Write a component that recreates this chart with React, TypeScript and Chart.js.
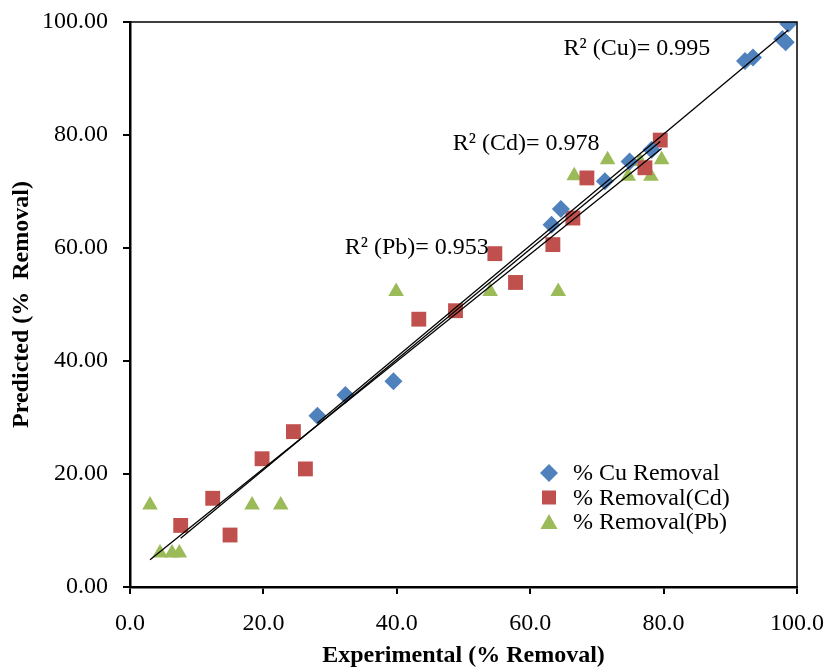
import React, { useEffect, useRef } from "react";
import { Chart, registerables } from "chart.js";

Chart.register(...registerables);

// ---- Data ----
const cuExperimental = [28.1, 32.3, 39.5, 63.2, 64.6, 71.2, 74.9, 78.2, 92.2, 93.4, 97.8, 98.3, 98.7];
const cuPredicted = [30.3, 34.0, 36.4, 64.1, 66.9, 71.8, 75.3, 77.4, 93.1, 93.7, 97.0, 96.4, 99.7];

const cdExperimental = [7.6, 12.4, 15.0, 19.8, 24.5, 26.3, 43.3, 48.8, 54.7, 57.8, 63.4, 66.4, 68.5, 77.2, 79.5];
const cdPredicted = [10.9, 15.7, 9.2, 22.7, 27.5, 20.9, 47.4, 48.9, 59.0, 53.9, 60.6, 65.3, 72.4, 74.2, 79.1];

const pbExperimental = [3.0, 4.5, 6.3, 7.4, 18.3, 22.6, 39.9, 54.0, 64.2, 66.6, 71.6, 74.7, 76.5, 78.1, 79.7];
const pbPredicted = [14.5, 6.0, 6.0, 6.0, 14.5, 14.5, 52.3, 52.3, 52.3, 72.8, 75.6, 72.7, 75.3, 72.7, 75.6];

const seriesLabels = ["% Cu Removal", "% Removal(Cd)", "% Removal(Pb)"];
const r2Texts = ["R² (Cu)= 0.995", "R² (Cd)= 0.978", "R² (Pb)= 0.953"];
const r2AnchorX = [65.0, 48.4, 32.2];
const r2AnchorY = [94.1, 77.4, 59.0];

const xTicksMax = 100;
const yTicksMax = 100;
const tickStep = 20;

// ---- helpers ----
const toPoints = (xs: number[], ys: number[]) => xs.map((x, i) => ({ x, y: ys[i] }));

function trend(xs: number[], ys: number[]) {
  const n = xs.length;
  const mx = xs.reduce((a, b) => a + b, 0) / n;
  const my = ys.reduce((a, b) => a + b, 0) / n;
  let sxy = 0;
  let sxx = 0;
  for (let i = 0; i < n; i++) {
    sxy += (xs[i] - mx) * (ys[i] - my);
    sxx += (xs[i] - mx) * (xs[i] - mx);
  }
  const b = sxy / sxx;
  const a = my - b * mx;
  const x0 = Math.min(...xs);
  const x1 = Math.max(...xs);
  return [
    { x: x0, y: a + b * x0 },
    { x: x1, y: a + b * x1 },
  ];
}

const COLORS = ["#4F81BD", "#C0504D", "#9BBB59"];
const FONT = "'Liberation Serif', 'Times New Roman', serif";

const framePlugin = {
  id: "frame",
  afterDraw(chart: any) {
    const { ctx, chartArea } = chart;
    ctx.save();
    ctx.strokeStyle = "#000";
    ctx.lineWidth = 1.5;
    ctx.beginPath();
    ctx.moveTo(chartArea.left, chartArea.top);
    ctx.lineTo(chartArea.right, chartArea.top);
    ctx.lineTo(chartArea.right, chartArea.bottom);
    ctx.stroke();
    ctx.restore();
  },
};

const r2Plugin = {
  id: "r2labels",
  afterDatasetsDraw(chart: any) {
    const { ctx, scales } = chart;
    ctx.save();
    ctx.fillStyle = "#000";
    ctx.font = `24px ${FONT}`;
    ctx.textAlign = "left";
    ctx.textBaseline = "alphabetic";
    r2Texts.forEach((t, i) => {
      ctx.fillText(t, scales.x.getPixelForValue(r2AnchorX[i]), scales.y.getPixelForValue(r2AnchorY[i]));
    });
    ctx.restore();
  },
};

function drawMarker(ctx: CanvasRenderingContext2D, kind: number, x: number, y: number) {
  ctx.fillStyle = COLORS[kind];
  ctx.beginPath();
  if (kind === 0) {
    const r = 9;
    ctx.moveTo(x, y - r);
    ctx.lineTo(x + r, y);
    ctx.lineTo(x, y + r);
    ctx.lineTo(x - r, y);
  } else if (kind === 1) {
    const h = 7;
    ctx.rect(x - h, y - h, 2 * h, 2 * h);
  } else {
    const w = 8.5;
    ctx.moveTo(x, y - 8);
    ctx.lineTo(x + w, y + 7);
    ctx.lineTo(x - w, y + 7);
  }
  ctx.closePath();
  ctx.fill();
}

const legendPlugin = {
  id: "insideLegend",
  afterDraw(chart: any) {
    const { ctx, chartArea } = chart;
    const mx = chartArea.left + 419;
    const tx = chartArea.left + 443;
    const y0 = chartArea.top + 451;
    const dy = 24.5;
    ctx.save();
    ctx.font = `24px ${FONT}`;
    ctx.textAlign = "left";
    ctx.textBaseline = "middle";
    seriesLabels.forEach((label, i) => {
      const y = y0 + i * dy;
      drawMarker(ctx, i, mx, y);
      ctx.fillStyle = "#000";
      ctx.fillText(label, tx, y + 1);
    });
    ctx.restore();
  },
};

export default function App() {
  const canvasRef = useRef<HTMLCanvasElement | null>(null);

  useEffect(() => {
    const canvas = canvasRef.current;
    if (!canvas) return;

    const pointBase = { borderWidth: 0, pointBorderWidth: 0, showLine: false };
    const trendBase = {
      type: "line" as const,
      borderColor: "#000",
      borderWidth: 1.3,
      pointRadius: 0,
      pointHoverRadius: 0,
      fill: false,
      showLine: true,
    };

    const chart = new Chart(canvas, {
      type: "scatter",
      data: {
        datasets: [
          {
            ...pointBase,
            label: seriesLabels[0],
            data: toPoints(cuExperimental, cuPredicted),
            pointStyle: "rectRot",
            pointRadius: 9,
            backgroundColor: COLORS[0],
            borderColor: COLORS[0],
            order: 1,
          },
          {
            ...pointBase,
            label: seriesLabels[1],
            data: toPoints(cdExperimental, cdPredicted),
            pointStyle: "rect",
            pointRadius: 10.5,
            backgroundColor: COLORS[1],
            borderColor: COLORS[1],
            order: 2,
          },
          {
            ...pointBase,
            label: seriesLabels[2],
            data: toPoints(pbExperimental, pbPredicted),
            pointStyle: "triangle",
            pointRadius: 9,
            backgroundColor: COLORS[2],
            borderColor: COLORS[2],
            order: 3,
          },
          { ...trendBase, label: "trend Cu", data: trend(cuExperimental, cuPredicted), order: 0 },
          { ...trendBase, label: "trend Cd", data: trend(cdExperimental, cdPredicted), order: 0 },
          { ...trendBase, label: "trend Pb", data: trend(pbExperimental, pbPredicted), order: 0 },
        ] as any,
      },
      options: {
        responsive: false,
        animation: false,
        devicePixelRatio: 1,
        layout: { padding: { top: 22, right: 30, left: 0, bottom: 0 } },
        plugins: {
          legend: { display: false },
          tooltip: { enabled: false },
        },
        scales: {
          x: {
            type: "linear",
            min: 0,
            max: xTicksMax,
            afterFit: (s: any) => {
              s.height = 81;
              s.paddingLeft = 0;
              s.paddingRight = 0;
              s.paddingTop = 0;
              s.paddingBottom = 0;
            },
            ticks: {
              stepSize: tickStep,
              color: "#000",
              font: { family: FONT, size: 24 },
              padding: 15,
              maxRotation: 0,
              callback: (v: any) => Number(v).toFixed(1),
            },
            grid: {
              drawOnChartArea: false,
              drawTicks: true,
              tickLength: 7,
              color: "#000",
              lineWidth: 2,
            },
            border: { display: true, color: "#000", width: 2.5 },
            title: {
              display: true,
              text: "Experimental (% Removal)",
              color: "#000",
              font: { family: FONT, size: 24, weight: "bold", lineHeight: 1 },
              padding: { top: 0, bottom: 0 },
            },
          },
          y: {
            type: "linear",
            min: 0,
            max: yTicksMax,
            afterFit: (s: any) => {
              s.width = 130;
              s.paddingLeft = 0;
              s.paddingRight = 0;
              s.paddingTop = 0;
              s.paddingBottom = 0;
            },
            ticks: {
              stepSize: tickStep,
              color: "#000",
              font: { family: FONT, size: 24 },
              padding: 15,
              callback: (v: any) => Number(v).toFixed(2),
            },
            grid: {
              drawOnChartArea: false,
              drawTicks: true,
              tickLength: 7,
              color: "#000",
              lineWidth: 2,
            },
            border: { display: true, color: "#000", width: 2.5 },
            title: {
              display: true,
              text: "Predicted (%  Removal)",
              color: "#000",
              font: { family: FONT, size: 24, weight: "bold", lineHeight: 1 },
              padding: { top: 10, bottom: 0 },
            },
          },
        },
      },
      plugins: [framePlugin, r2Plugin, legendPlugin],
    });

    return () => chart.destroy();
  }, []);

  return (
    <div style={{ position: "absolute", left: 0, top: 0, width: 827, height: 668, background: "#fff" }}>
      <canvas ref={canvasRef} width={827} height={668} />
    </div>
  );
}
